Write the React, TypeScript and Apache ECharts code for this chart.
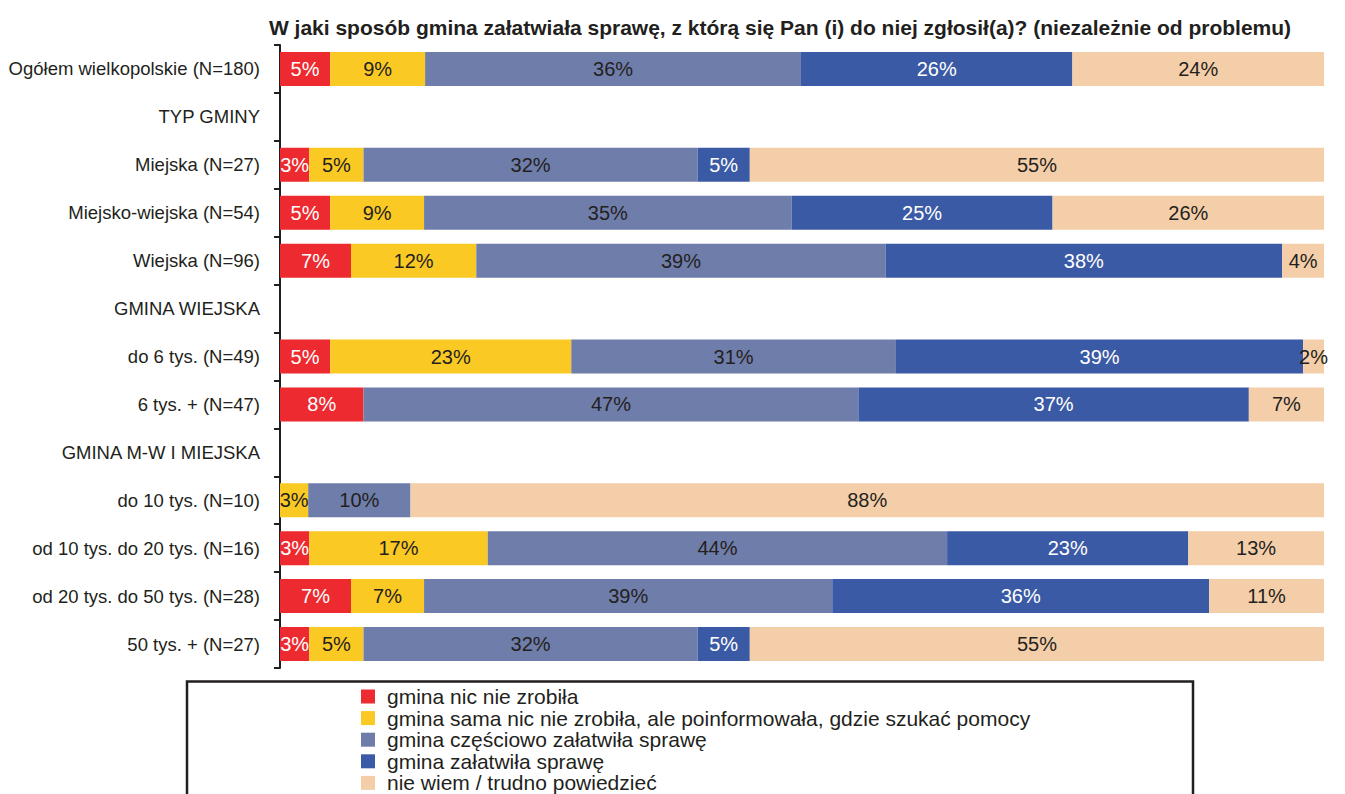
import React, { useEffect, useRef } from "react";
import * as echarts from "echarts";

const categories = [
  "Ogółem wielkopolskie (N=180)",
  "TYP GMINY",
  "Miejska (N=27)",
  "Miejsko-wiejska (N=54)",
  "Wiejska (N=96)",
  "GMINA WIEJSKA",
  "do 6 tys. (N=49)",
  "6 tys. + (N=47)",
  "GMINA M-W I MIEJSKA",
  "do 10 tys. (N=10)",
  "od 10 tys. do 20 tys. (N=16)",
  "od 20 tys. do 50 tys. (N=28)",
  "50 tys. + (N=27)",
];

const seriesNames = [
  "gmina nic nie zrobiła",
  "gmina sama nic nie zrobiła, ale poinformowała, gdzie szukać pomocy",
  "gmina częściowo załatwiła sprawę",
  "gmina załatwiła sprawę",
  "nie wiem / trudno powiedzieć",
];

const nicNieZrobila = [4.8, null, 2.8, 4.8, 6.8, null, 4.8, 8.0, null, 0, 2.8, 6.8, 2.8];
const poinformowala = [9.1, null, 5.2, 9.0, 12.0, null, 23.1, 0, null, 2.7, 17.1, 7.0, 5.2];
const czesciowo = [36.0, null, 32.0, 35.2, 39.2, null, 31.1, 47.4, null, 9.8, 44.0, 39.1, 32.0];
const zalatwila = [26.0, null, 5.0, 25.0, 38.0, null, 39.0, 37.4, null, 0, 23.1, 36.1, 5.0];
const nieWiem = [24.1, null, 55.0, 26.0, 4.0, null, 2.0, 7.2, null, 87.5, 13.0, 11.0, 55.0];

const seriesData = [nicNieZrobila, poinformowala, czesciowo, zalatwila, nieWiem];
const colors = ["#EC2A2F", "#FBC923", "#6F7DAA", "#3B5AA5", "#F4CEA9"];
const labelColors = ["#FFFFFF", "#231F20", "#231F20", "#FFFFFF", "#231F20"];

const FONT = "'Liberation Sans', Arial, sans-serif";

export default function App() {
  const ref = useRef<HTMLDivElement>(null);
  useEffect(() => {
    if (!ref.current) return;
    const chart = echarts.init(ref.current, undefined, { renderer: "svg" });

    const legendItems: any[] = [];
    seriesNames.forEach((name, i) => {
      const cy = 696.5 + i * 21.6;
      legendItems.push({
        type: "rect",
        shape: { x: 361, y: cy - 7, width: 14, height: 14 },
        style: { fill: colors[i] },
      });
      legendItems.push({
        type: "text",
        x: 387,
        y: cy,
        style: {
          text: name,
          fontFamily: FONT,
          fontSize: 21,
          fill: "#231F20",
          verticalAlign: "middle",
        },
      });
    });

    chart.setOption({
      animation: false,
      backgroundColor: "#ffffff",
      title: {
        text: "W jaki sposób gmina załatwiała sprawę, z którą się Pan (i) do niej zgłosił(a)? (niezależnie od problemu)",
        left: 775,
        textAlign: "center",
        top: 12,
        textStyle: { fontFamily: FONT, fontWeight: "bold", fontSize: 21, color: "#231F20" },
      },
      graphic: [
        {
          type: "rect",
          shape: { x: 187, y: 681.5, width: 1006, height: 140 },
          style: { fill: "none", stroke: "#231F20", lineWidth: 2.5 },
          z: 0,
        },
        ...legendItems,
      ],
      grid: { left: 280, right: 21, top: 45, bottom: 126 },
      xAxis: { type: "value", min: 0, max: 100, show: false },
      yAxis: {
        type: "category",
        inverse: true,
        offset: 2,
        data: categories,
        axisLine: { show: true, lineStyle: { color: "#231F20", width: 2 } },
        axisTick: { show: true, length: 6, lineStyle: { color: "#231F20", width: 2 } },
        axisLabel: { margin: 18, fontFamily: FONT, fontSize: 18.5, color: "#231F20" },
      },
      series: seriesData.map((d, i) => ({
        name: seriesNames[i],
        type: "bar",
        stack: "total",
        barWidth: 34,
        data: d,
        itemStyle: { color: colors[i] },
        label: {
          show: true,
          position: "inside",
          fontFamily: FONT,
          fontSize: 20,
          color: labelColors[i],
          formatter: (p: any) => (p.value ? Math.round(p.value) + "%" : ""),
        },
      })),
    });
    return () => chart.dispose();
  }, []);
  return (
    <div
      ref={ref}
      style={{ position: "absolute", left: 0, top: 0, width: 1345, height: 794 }}
    />
  );
}
